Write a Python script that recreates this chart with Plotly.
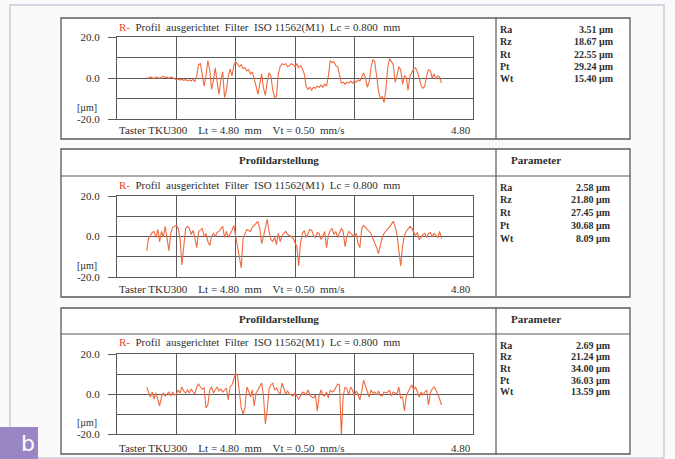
import numpy as np
import plotly.graph_objects as go

W, H = 675, 459

# ---------------- data ----------------
X_START, X_STEP = 0.40, 0.025   # sampling of the traced profiles (mm)

profile_1 = [
    0.3, -0.2, 0.5, 0.1, -0.3, 0.6, 0.2, -0.1, 0.4, 0.8, 0.3, 0.5, -0.2, 0.4, 0.1,
    -0.3, -0.8, -0.5, -1.0, -0.6, -1.2, -0.7, -1.4, -0.9, -1.5, -0.6, -1.8,
    1, 6.5, 7, 2, -4, 1, 8.5, 4, -5.5, -1,
    5, -2, -8, -1, 3, -9.5, -6, 1, 4.5, 1,
    6, 8, 7, 5.5, 6.5, 4.5, 5, 3.5, 4, 2,
    3, 0, -4, -8, -3, 2, -5, -8.5, -2, 2.5,
    1, -6, -9.5, -9, 2, 5.5, 7, 6.5, 7, 5.5,
    6, 7, 6.5, 5.5, 7, 5, 6, 4.5, 2, -4,
    -5.5, -4.5, -6, -4.5, -5, -4, -4.5, -3.5, -4.5, -3,
    -4, 1, 8.5, 7.5, 8, 6, 5.5, 2, -2.5, -2,
    -3, -2, -2.5, -1.5, -2.5, -1.5, -2, -1, -1.5, 0.5,
    2.5, 0, -4.5, -2, 5, 9, 8, 1, -6, -10,
    -9, -12, -6, 5, 9.5, 8, 6.5, -2, 1, 5.5,
    4, -3, 1, 0.5, -6, 1, 3, 4.5, 5, 3,
    0, -3.5, -5, -4, 1, 4, 3.5, 0, 2, -0.5,
    1, 0.5, -2.5,
]

profile_2 = [
    -7, -1, 0.5, 2, 2.5, -0.5, 3.5, -2.5, 2.5, 0,
    5, -2, -7, 1.5, 4.5, 5, 5.5, 4, -1, -14,
    -4, 4, 5, 4, 1, 3, -0.5, -5.5, 2.5, 3.5,
    4, 0, 1.5, -2.5, -4.5, 0, 1.5, 0, 2, 2.5,
    4, 5, -0.5, 2.5, -0.5, 1, 3, 5.5, 0, -5.5,
    -12, -15.5, -1, 1.5, 3.5, 3, 2.5, 4.5, 5.5, 7,
    7.5, 4, -3.5, 0, 5, 8.5, 2.5, -1.5, -2.5, -0.5,
    -4, 1.5, -2.5, 0.5, 1.5, 2.5, 1,
    0.5, 0, -1, -3, -5, -14.5, -3, 1.5, 3, -0.5,
    2, 3.5, 3, 0.5, -0.5, 2, 1.5, -1.5, 0, 2.5,
    -5.5, 0.5, 3, 4, 1, 2.5, -0.5, 1.5, 4, 2.5,
    -5, 0, 2.5, 1.5, 0.5, 0, 1.5, -3.5, -5.5, 4,
    5.5, 4.5, 3.5, 2.5, 1.5, -1, -3, -5.5, -8.5, -5,
    -0.5, 1.5, 2.5, 3.5, 5, 6, 7.5, 5, 1, -5.5,
    -14.5, -5, 0.5, 2.5, 3.5, 5, 4, 2, 0.5, 2,
    -1.5, -0.5, 1, 1.5, -0.5, 1.5, 2, 0, 1.5, 0.5,
    -0.5, 2.5, -1,
]

profile_3 = [
    3.5, 1, -1.5, 1, -2.5, 0.5, -3, -6, -1.5, 0.5,
    -1, 0, 1, -1, 1, -0.5, 0, 2, 0.5, 3.5,
    1.5, 0.5, 2, 0.5, 2.5, 1, 0, 3.5, 5, 3.5,
    2.5, 3, -7, -5.5, 2, 3.5, 0.5, 2, 3.5, 1.5,
    2.5, 1, 2, 3, -3, 3.5, 4.5, 7, 10.5, 9,
    1, -7, -10, -7, 3.5, 1.5, -1.5, 2, -6, 0.5,
    2, 3.5, 5.5, -1, -15, -8, 2.5, 4.5, 5.5, 2,
    3, 1, 0, 5.5, 3, 0, 1.5,
    0, -0.5, -1, 0.5, -1, -2.5, -1, 1, 0.5, -0.5,
    2, -0.5, -1.5, -2, -0.5, -8.5, -1, 2, -0.5, -1,
    1, -2, 2, 1, 1.5, 3, 5, 4.5, -20.5, -1,
    3.5, 2.5, -0.5, 3.5, 2, -1, 1.5, 0, -3, 1.5,
    7, 4, 1.5, -1.5, 2, 0.5, 1, -0.5, 1.5, -0.5,
    -1, 1, 0.5, 1, 2, -1, 1, 0.5, 0, 3.5,
    -2, -1.5, -8.5, -1, 1.5, 3, 4.5, 2, 3.5, 1,
    -1.5, 1, -0.5, 1, 2, -5.5, 0.5, 2.5, 3.5, 2,
    0, -2.5, -5.5,
]

param_names = ["Ra", "Rz", "Rt", "Pt", "Wt"]
param_1 = ["3.51", "18.67", "22.55", "29.24", "15.40"]
param_2 = ["2.58", "21.80", "27.45", "30.68", "8.09"]
param_3 = ["2.69", "21.24", "34.00", "36.03", "13.59"]
param_unit = "µm"

x_range = [0, 4.8]
x_grid_step = 0.8
y_range = [-20, 20]
y_tick_vals = [-20, 0, 20]
y_tick_text = ["-20.0", "0.0", "20.0"]
y_minor_vals = [-10, 10]
y_unit_label = "[µm]"
x_end_label = "4.80"

title_prefix = "R-"
title_text = "  Profil  ausgerichtet  Filter  ISO 11562(M1)  Lc = 0.800  mm"
footer_text = "Taster TKU300    Lt = 4.80  mm    Vt = 0.50  mm/s"
header_left = "Profildarstellung"
header_right = "Parameter"
panel_letter = "b"

# ---------------- styling / geometry ----------------
SERIF = "Liberation Serif, Times New Roman, serif"
LINE = "#5a5a5a"
TXT = "#2e2e2e"
PROFILE = "#f06a40"
RED = "#e0452b"


def px(x):
    return x / W


def py(y):
    return 1 - y / H


panels = [
    dict(data=profile_1, params=param_1, box=(61, 18, 630, 139), header=None,
         plot=(117, 37, 473, 119), title_y=27, footer_y=130,
         p_y0=29.5, p_dy=12.3, v_right=616),
    dict(data=profile_2, params=param_2, box=(61, 149, 630, 297), header=(160, 176),
         plot=(117, 196, 473, 277), title_y=185, footer_y=289,
         p_y0=187, p_dy=12.8, v_right=613),
    dict(data=profile_3, params=param_3, box=(61, 308, 630, 454), header=(319, 334),
         plot=(117, 354, 473, 434), title_y=342, footer_y=448,
         p_y0=345, p_dy=11.7, v_right=613),
]
DIV_X = 496

fig = go.Figure()
shapes = []
annotations = []
layout_axes = {}

# outer page frame
shapes.append(dict(type="rect", xref="paper", yref="paper", x0=px(10), y0=py(458),
                   x1=px(664), y1=py(5), line=dict(color="#cdc8dc", width=1.5),
                   layer="below"))

for i, p in enumerate(panels, start=1):
    xs = np.round(X_START + X_STEP * np.arange(len(p["data"])), 4)
    xa = "x" if i == 1 else f"x{i}"
    ya = "y" if i == 1 else f"y{i}"
    fig.add_trace(go.Scatter(x=xs, y=p["data"], mode="lines", xaxis=xa, yaxis=ya,
                             line=dict(color=PROFILE, width=1.1), showlegend=False,
                             hoverinfo="skip"))
    l, t, r, b = p["plot"]
    layout_axes["xaxis" if i == 1 else f"xaxis{i}"] = dict(
        domain=[px(l), px(r)], range=x_range, tick0=0, dtick=x_grid_step,
        showgrid=True, gridcolor=LINE, gridwidth=1, showline=True, mirror=True,
        linecolor=LINE, linewidth=1, showticklabels=False, ticks="", zeroline=False,
        anchor=ya, fixedrange=True, automargin=False)
    layout_axes["yaxis" if i == 1 else f"yaxis{i}"] = dict(
        domain=[py(b), py(t)], range=y_range, tickmode="array", tickvals=y_tick_vals,
        ticktext=y_tick_text, ticks="outside", ticklen=8, tickcolor=LINE,
        ticklabelstandoff=6,
        tickfont=dict(family=SERIF, size=11, color=TXT),
        showgrid=True, gridcolor=LINE, gridwidth=1,
        minor=dict(tickvals=y_minor_vals, showgrid=True, gridcolor=LINE, gridwidth=1,
                   ticks=""),
        showline=True, mirror=True, linecolor=LINE, linewidth=1, zeroline=False,
        anchor=xa, fixedrange=True, automargin=False)

    # panel box + dividers
    bl, bt, br, bb = p["box"]
    shapes.append(dict(type="rect", xref="paper", yref="paper", x0=px(bl), y0=py(bb),
                       x1=px(br), y1=py(bt), line=dict(color=LINE, width=1.3),
                       fillcolor="white", layer="below"))
    shapes.append(dict(type="line", xref="paper", yref="paper", x0=px(DIV_X), y0=py(bb),
                       x1=px(DIV_X), y1=py(bt), line=dict(color=LINE, width=1.2)))
    if p["header"]:
        hy, hl = p["header"]
        shapes.append(dict(type="line", xref="paper", yref="paper", x0=px(bl), y0=py(hl),
                           x1=px(br), y1=py(hl), line=dict(color=LINE, width=1.2)))
        annotations.append(dict(text=f"<b>{header_left}</b>", xref="paper", yref="paper",
                                x=px((bl + DIV_X) / 2), y=py(hy), showarrow=False,
                                yanchor="middle",
                                font=dict(family=SERIF, size=11, color=TXT)))
        annotations.append(dict(text=f"<b>{header_right}</b>", xref="paper", yref="paper",
                                x=px((DIV_X + br) / 2), y=py(hy), showarrow=False,
                                yanchor="middle",
                                font=dict(family=SERIF, size=11, color=TXT)))

    # plot title and footer
    annotations.append(dict(
        text=f"<span style='color:{RED}'>{title_prefix}</span>{title_text}",
        xref="paper", yref="paper", x=px(l), y=py(p["title_y"]), xanchor="left",
        yanchor="middle", showarrow=False, font=dict(family=SERIF, size=11, color=TXT)))
    annotations.append(dict(text=footer_text, xref="paper", yref="paper", x=px(l),
                            y=py(p["footer_y"]), xanchor="left", yanchor="middle",
                            showarrow=False, font=dict(family=SERIF, size=11, color=TXT)))
    annotations.append(dict(text=x_end_label, xref=xa, yref="paper", x=x_range[1],
                            y=py(p["footer_y"]), xanchor="right", yanchor="middle",
                            showarrow=False, font=dict(family=SERIF, size=11, color=TXT)))
    annotations.append(dict(text=y_unit_label, xref="paper", yref="paper", x=px(99),
                            y=py(b - 12), xanchor="right", yanchor="middle",
                            showarrow=False, font=dict(family=SERIF, size=10, color=TXT)))

    # parameter table
    for k, (name, val) in enumerate(zip(param_names, p["params"])):
        yy = py(p["p_y0"] + k * p["p_dy"])
        annotations.append(dict(text=f"<b>{name}</b>", xref="paper", yref="paper",
                                x=px(DIV_X + 2), y=yy, xanchor="left", yanchor="middle",
                                showarrow=False, font=dict(family=SERIF, size=10, color=TXT)))
        annotations.append(dict(text=f"<b>{val} {param_unit}</b>", xref="paper",
                                yref="paper", x=px(p["v_right"]), y=yy, xanchor="right",
                                yanchor="middle", showarrow=False,
                                font=dict(family=SERIF, size=10, color=TXT)))

# panel letter badge
shapes.append(dict(type="rect", xref="paper", yref="paper", x0=0, y0=0, x1=px(38),
                   y1=py(427), line=dict(width=0), fillcolor="#9a86c4"))
annotations.append(dict(text=panel_letter, xref="paper", yref="paper", x=px(19),
                        y=py(443), showarrow=False, yanchor="middle",
                        font=dict(family="DejaVu Sans, sans-serif", size=22, color="white")))

fig.update_layout(width=W, height=H,
                  margin=dict(l=0, r=0, t=0, b=0, pad=0, autoexpand=False),
                  paper_bgcolor="#fafafa", plot_bgcolor="white",
                  shapes=shapes, annotations=annotations, showlegend=False,
                  **layout_axes)

fig.write_html("out.html", config={"displayModeBar": False},
               post_script="document.body.style.margin='0px';"
                           "document.body.style.overflow='hidden';")
